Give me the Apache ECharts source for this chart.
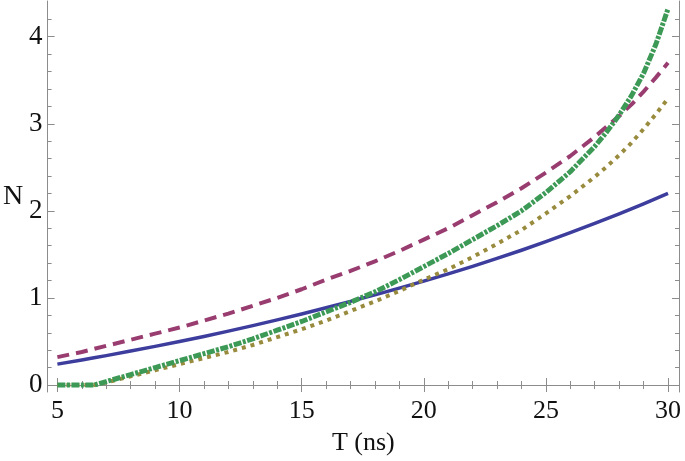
<!DOCTYPE html>
<html>
<head>
<meta charset="utf-8">
<script src="https://cdn.jsdelivr.net/npm/echarts@6/dist/echarts.min.js"></script>
<style>
  html, body { margin: 0; padding: 0; background: #fff; }
  #chart { width: 685px; height: 461px; }
</style>
</head>
<body>
<div id="chart"></div>
<script>
// T values (ns) shared by all curves
const tValues = [5, 6, 6.5, 7, 8, 9, 10, 11, 12, 13, 14, 15, 16, 17, 18, 19, 20, 21, 22, 23, 24, 25, 26, 27, 27.5, 28, 28.5, 29, 29.5, 30];

const blueN = [0.24, 0.288, 0.313, 0.338, 0.39, 0.444, 0.50, 0.558, 0.619, 0.682, 0.748, 0.816, 0.887, 0.961, 1.036, 1.113, 1.193, 1.277, 1.363, 1.454, 1.548, 1.647, 1.749, 1.856, 1.911, 1.966, 2.023, 2.081, 2.14, 2.20];
const magentaN = [0.32, 0.38, 0.415, 0.45, 0.52, 0.59, 0.66, 0.74, 0.82, 0.91, 1.00, 1.10, 1.21, 1.31, 1.42, 1.54, 1.67, 1.80, 1.95, 2.10, 2.26, 2.44, 2.63, 2.85, 2.97, 3.09, 3.22, 3.37, 3.53, 3.70];
const oliveN = [0, 0, 0, 0.03, 0.10, 0.17, 0.24, 0.31, 0.38, 0.46, 0.55, 0.64, 0.74, 0.85, 0.96, 1.08, 1.21, 1.33, 1.47, 1.62, 1.78, 1.97, 2.17, 2.39, 2.51, 2.64, 2.78, 2.94, 3.11, 3.29];
const greenN = [0, 0, 0, 0.04, 0.12, 0.20, 0.28, 0.36, 0.44, 0.53, 0.63, 0.73, 0.84, 0.95, 1.07, 1.21, 1.36, 1.51, 1.67, 1.83, 2.00, 2.21, 2.45, 2.74, 2.91, 3.10, 3.32, 3.58, 3.91, 4.32];

// tick labels
const xMajor = [5, 10, 15, 20, 25, 30];
const xMinor = [6, 7, 8, 9, 11, 12, 13, 14, 16, 17, 18, 19, 21, 22, 23, 24, 26, 27, 28, 29];
const yMajor = [0, 1, 2, 3, 4];
const yMinor = [0.2, 0.4, 0.6, 0.8, 1.2, 1.4, 1.6, 1.8, 2.2, 2.4, 2.6, 2.8, 3.2, 3.4, 3.6, 3.8, 4.2];

const X_MIN = 4.6, X_MAX = 30.45;
const Y_MIN = -0.08, Y_MAX = 4.41;
const frameColor = '#8c8c8c';
const font = "'Liberation Serif', 'Times New Roman', serif";

const pairs = (ys) => tValues.map((t, i) => [t, ys[i]]);

// one axis per side for major ticks, another for minor ticks
function xAx(position, ticks, len, withLine, withLabel) {
  return {
    type: 'value', position, min: X_MIN, max: X_MAX,
    axisLine: { show: withLine, lineStyle: { color: frameColor, width: 1 } },
    axisTick: { show: true, inside: true, length: len, customValues: ticks, lineStyle: { color: frameColor } },
    axisLabel: withLabel
      ? { show: true, customValues: ticks, margin: 6, fontFamily: font, fontSize: 26, color: '#111' }
      : { show: false },
    splitLine: { show: false },
  };
}
function yAx(position, ticks, len, withLine, withLabel) {
  return {
    type: 'value', position, min: Y_MIN, max: Y_MAX,
    axisLine: { show: withLine, lineStyle: { color: frameColor, width: 1 } },
    axisTick: { show: true, inside: true, length: len, customValues: ticks, lineStyle: { color: frameColor } },
    axisLabel: withLabel
      ? { show: true, customValues: ticks, margin: 5, fontFamily: font, fontSize: 27, color: '#111' }
      : { show: false },
    splitLine: { show: false },
  };
}

const xAxes = [
  xAx('bottom', xMajor, 7, true, true),
  xAx('bottom', xMinor, 4, false, false),
  xAx('top', xMajor, 7, true, false),
  xAx('top', xMinor, 4, false, false),
];
Object.assign(xAxes[0], {
  name: 'T (ns)', nameLocation: 'middle', nameGap: 38,
  nameTextStyle: { fontFamily: font, fontSize: 26, color: '#111' },
});

const yAxes = [
  yAx('left', yMajor, 7, true, true),
  yAx('left', yMinor, 4, false, false),
  yAx('right', yMajor, 7, true, false),
  yAx('right', yMinor, 4, false, false),
];
Object.assign(yAxes[0], {
  name: 'N', nameLocation: 'middle', nameGap: 23, nameRotate: 0,
  nameTextStyle: { fontFamily: font, fontSize: 28, color: '#111', align: 'right' },
});

function line(ys, color, width, type) {
  return {
    type: 'line', data: pairs(ys), showSymbol: false, smooth: false,
    lineStyle: { color, width, type, cap: 'butt', join: 'round' },
    animation: false,
  };
}

const chart = echarts.init(document.getElementById('chart'), null, { renderer: 'canvas' });
chart.setOption({
  animation: false,
  grid: { left: 47, right: 6, top: 1, bottom: 68 },
  xAxis: xAxes,
  yAxis: yAxes,
  series: [
    line(blueN, '#3d3d9e', 3.5, 'solid'),
    line(magentaN, '#993d71', 4, [12, 7]),
    line(oliveN, '#998b3d', 4, [4, 5]),
    line(greenN, '#3d9956', 5, [8, 1.5, 3, 1.5]),
  ],
});
</script>
</body>
</html>
